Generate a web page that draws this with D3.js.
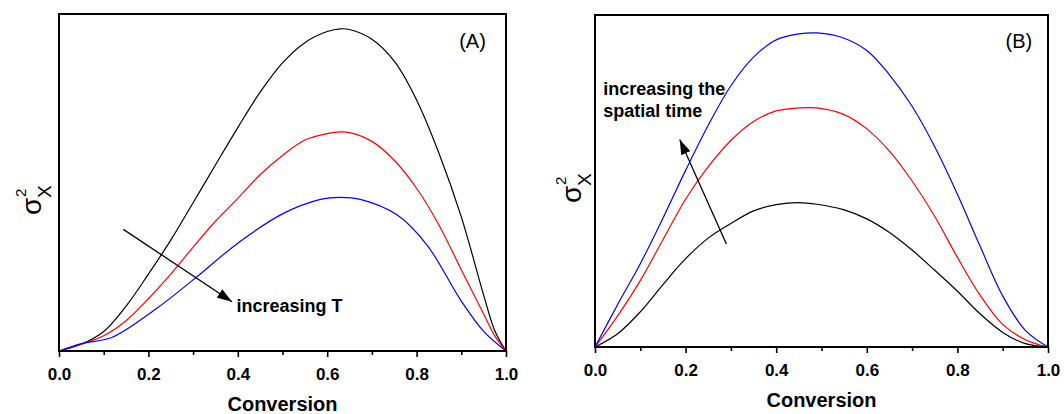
<!DOCTYPE html>
<html>
<head>
<meta charset="utf-8">
<script src="https://cdn.jsdelivr.net/npm/d3@7"></script>
<style>
  body { margin: 0; background: #fff; }
  svg { display: block; font-family: "Liberation Sans", Arial, sans-serif; }
</style>
</head>
<body>
<div id="chart"></div>
<script>
var width = 1064,
    height = 414;

// panel A : variance vs conversion, three temperatures
var convA  = [0, 0.05, 0.1, 0.15, 0.2, 0.25, 0.3, 0.35, 0.4, 0.45, 0.5, 0.55, 0.6, 0.63, 0.65, 0.7, 0.75, 0.8, 0.85, 0.9, 0.95, 0.975, 1.0];
var blackA = [0, 0.02, 0.058, 0.133, 0.228, 0.329, 0.44, 0.552, 0.663, 0.768, 0.855, 0.915, 0.948, 0.956, 0.954, 0.925, 0.86, 0.745, 0.587, 0.398, 0.166, 0.06, 0];
var redA   = [0, 0.02, 0.045, 0.09, 0.155, 0.228, 0.308, 0.385, 0.453, 0.523, 0.58, 0.626, 0.645, 0.65, 0.648, 0.622, 0.566, 0.483, 0.374, 0.241, 0.11, 0.045, 0];
var convBlueA = [0, 0.05, 0.118, 0.219, 0.3, 0.4, 0.5, 0.585, 0.63, 0.674, 0.756, 0.823, 0.9, 0.95, 1.0];
var blueA     = [0, 0.022, 0.04, 0.127, 0.211, 0.32, 0.407, 0.45, 0.456, 0.45, 0.404, 0.315, 0.148, 0.058, 0];

// panel B : variance vs conversion, three spatial times
var convB  = [0, 0.05, 0.1, 0.15, 0.2, 0.25, 0.3, 0.35, 0.4, 0.45, 0.49, 0.55, 0.6, 0.65, 0.7, 0.75, 0.8, 0.85, 0.9, 0.95, 1.0];
var blackB = [0, 0.04, 0.106, 0.188, 0.266, 0.328, 0.372, 0.41, 0.429, 0.435, 0.43, 0.413, 0.386, 0.345, 0.292, 0.231, 0.168, 0.1, 0.044, 0.01, 0];
var redB   = [0, 0.094, 0.2, 0.323, 0.445, 0.543, 0.622, 0.679, 0.711, 0.72, 0.72, 0.7, 0.657, 0.59, 0.5, 0.393, 0.27, 0.156, 0.068, 0.022, 0];
var blueB  = [0, 0.128, 0.251, 0.388, 0.532, 0.668, 0.787, 0.873, 0.925, 0.943, 0.946, 0.93, 0.893, 0.82, 0.725, 0.603, 0.46, 0.304, 0.154, 0.05, 0];

var majorTicks = [0, 0.2, 0.4, 0.6, 0.8, 1.0];
var minorTicks = [0.1, 0.3, 0.5, 0.7, 0.9];
var xTitle = "Conversion";

var panels = [
  {
    box: {left: 59, top: 14, right: 506, bottom: 351},
    tag: "(A)", tagAt: [0.955, 0.9],
    series: [
      {x: convA, y: blackA, color: "#000000"},
      {x: convA, y: redA, color: "#ff0000"},
      {x: convBlueA, y: blueA, color: "#0000ff"}
    ],
    arrow: [[0.144, 0.361], [0.387, 0.146]],
    note: ["increasing T"], noteAt: [0.397, 0.117],
    sigma: [41, 215]
  },
  {
    box: {left: 595, top: 15, right: 1048, bottom: 347},
    tag: "(B)", tagAt: [0.965, 0.9],
    series: [
      {x: convB, y: blackB, color: "#000000"},
      {x: convB, y: redB, color: "#ff0000"},
      {x: convB, y: blueB, color: "#0000ff"}
    ],
    arrow: [[0.29, 0.31], [0.187, 0.625]],
    note: ["increasing the", "spatial time"], noteAt: [0.018, 0.758],
    sigma: [581, 203]
  }
];

var svg = d3.select("#chart")
  .append("svg")
  .attr("width", width)
  .attr("height", height);

svg.append("defs").append("marker")
  .attr("id", "head")
  .attr("markerUnits", "userSpaceOnUse")
  .attr("markerWidth", 15)
  .attr("markerHeight", 10)
  .attr("refX", 15)
  .attr("refY", 5)
  .attr("orient", "auto")
  .append("path")
  .attr("d", "M0,0L15,5L0,10Z")
  .attr("fill", "#000");

panels.forEach(function(p) {
  var b = p.box;
  var x = d3.scaleLinear().domain([0, 1]).range([b.left, b.right]);
  var y = d3.scaleLinear().domain([0, 1]).range([b.bottom, b.top]);
  var g = svg.append("g");

  // minor ticks
  g.append("g")
    .attr("transform", "translate(0," + b.bottom + ")")
    .call(d3.axisBottom(x).tickValues(minorTicks).tickSize(4).tickFormat(""))
    .call(function(a) {
      a.select(".domain").remove();
      a.selectAll("line").attr("stroke-width", 1.6);
    });

  // major ticks + labels
  g.append("g")
    .attr("transform", "translate(0," + b.bottom + ")")
    .call(d3.axisBottom(x).tickValues(majorTicks).tickSize(6).tickFormat(d3.format(".1f")))
    .call(function(a) {
      a.select(".domain").remove();
      a.selectAll("line").attr("stroke-width", 1.6);
      a.selectAll("text")
        .attr("y", 29).attr("dy", null)
        .attr("fill", "#000")
        .style("font-size", "17px")
        .style("font-weight", "bold")
        .style("font-family", "'Liberation Sans', Arial, sans-serif");
    });

  var line = d3.line().curve(d3.curveCatmullRom.alpha(0.5));
  p.series.forEach(function(s) {
    g.append("path")
      .attr("d", line(s.x.map(function(v, i) { return [x(v), y(s.y[i])]; })))
      .attr("fill", "none")
      .attr("stroke", s.color)
      .attr("stroke-width", 1.2);
  });

  // frame
  g.append("rect")
    .attr("x", b.left).attr("y", b.top)
    .attr("width", b.right - b.left).attr("height", b.bottom - b.top)
    .attr("fill", "none").attr("stroke", "#000").attr("stroke-width", 2);

  g.append("text")
    .attr("x", x(p.tagAt[0])).attr("y", y(p.tagAt[1]))
    .attr("text-anchor", "end")
    .style("font-size", "20px")
    .text(p.tag);

  g.append("line")
    .attr("x1", x(p.arrow[0][0])).attr("y1", y(p.arrow[0][1]))
    .attr("x2", x(p.arrow[1][0])).attr("y2", y(p.arrow[1][1]))
    .attr("stroke", "#000").attr("stroke-width", 1.3)
    .attr("marker-end", "url(#head)");

  g.selectAll(".note")
    .data(p.note)
    .enter()
    .append("text")
    .attr("x", x(p.noteAt[0]))
    .attr("y", function(d, i) { return y(p.noteAt[1]) + i * 22; })
    .style("font-size", "18px")
    .style("font-weight", "bold")
    .text(function(d) { return d; });

  g.append("text")
    .attr("x", (b.left + b.right) / 2)
    .attr("y", b.bottom + 60)
    .attr("text-anchor", "middle")
    .style("font-size", "20px")
    .style("font-weight", "bold")
    .text(xTitle);

  // y title: sigma with subscript X and superscript 2
  var yl = g.append("g")
    .attr("transform", "translate(" + p.sigma[0] + "," + p.sigma[1] + ") rotate(-90)");
  yl.append("text").attr("x", 0).attr("y", 0).style("font-size", "28px").text("σ");
  yl.append("text").attr("x", 17).attr("y", 10).style("font-size", "19px").text("X");
  yl.append("text").attr("x", 18).attr("y", -15).style("font-size", "15px").text("2");
});
</script>
</body>
</html>
